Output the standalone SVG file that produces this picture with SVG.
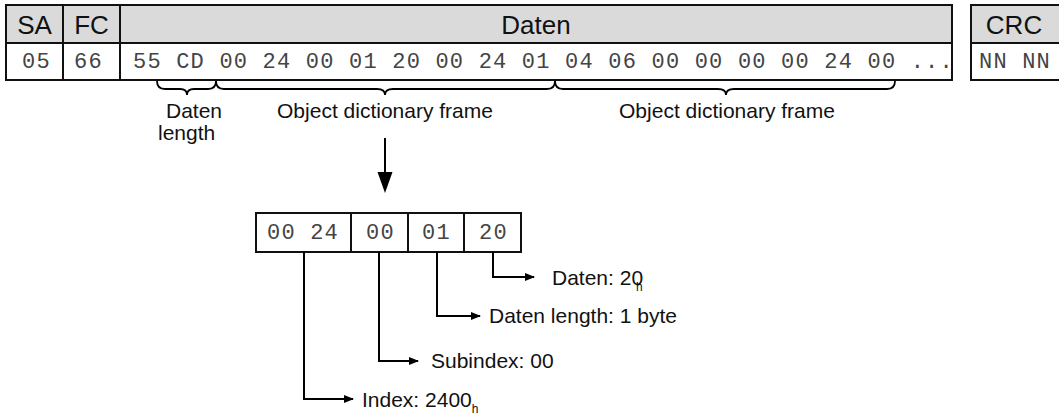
<svg xmlns="http://www.w3.org/2000/svg" width="1059" height="414" viewBox="0 0 1059 414">
<style>
.cell{fill:#fff;stroke:#111;stroke-width:2}
.hdr{fill:#dadada;stroke:#111;stroke-width:2}
.ht{font-family:"Liberation Sans",Arial,sans-serif;font-size:26px;fill:#111;text-anchor:middle}
.mono{font-family:"Liberation Mono","Courier New",monospace;font-size:22px;letter-spacing:1.2px;fill:#444}
.lbl{font-family:"Liberation Sans",Arial,sans-serif;font-size:21px;fill:#111}
.sub{font-size:12px;fill:#111}
.ln{fill:none;stroke:#000;stroke-width:2}
.br{fill:none;stroke:#000;stroke-width:1.8}
</style>
<defs>
<marker id="ah" markerWidth="10" markerHeight="8" refX="9" refY="4" orient="auto" markerUnits="userSpaceOnUse"><path d="M0,0 L10,4 L0,8 z" fill="#000"/></marker>
</defs>
<rect width="1059" height="414" fill="#fff"/>
<g id="sa">
<rect class="hdr" x="6" y="5" width="57" height="38"/>
<rect class="cell" x="6" y="43" width="57" height="37"/>
<text class="ht" x="34.5" y="34">SA</text>
<text class="mono" x="22" y="68">05</text>
</g>
<g id="fc">
<rect class="hdr" x="63" y="5" width="57" height="38"/>
<rect class="cell" x="63" y="43" width="57" height="37"/>
<text class="ht" x="91.5" y="34">FC</text>
<text class="mono" x="74" y="68">66</text>
</g>
<g id="daten">
<rect class="hdr" x="120" y="5" width="832" height="38"/>
<rect class="cell" x="120" y="43" width="832" height="37"/>
<text class="ht" x="536" y="34">Daten</text>
<text class="mono" x="133" y="68">55 CD 00 24 00 01 20 00 24 01 04 06 00 00 00 00 24 00 ...</text>
</g>
<g id="crc">
<rect class="hdr" x="971" y="5" width="92" height="38"/>
<rect class="cell" x="971" y="43" width="92" height="37"/>
<text class="ht" x="1014" y="34">CRC</text>
<text class="mono" x="979" y="68" letter-spacing="2.5">NN NN</text>
</g>
<g id="braces">
<path class="br" d="M157,81 Q157,89 165,89 H180 Q187,89 187,95 Q187,89 194,89 H208 Q216,89 216,81"/>
<path class="br" d="M216,81 Q216,89 224,89 H377 Q385,89 385,95 Q385,89 393,89 H547 Q555,89 555,81"/>
<path class="br" d="M555,81 Q555,89 563,89 H718 Q726,89 726,95 Q726,89 734,89 H887 Q895,89 895,81"/>
</g>
<g id="labels">
<text class="lbl" x="166" y="118">Daten</text>
<text class="lbl" x="158" y="140">length</text>
<text class="lbl" x="385" y="118" text-anchor="middle">Object dictionary frame</text>
<text class="lbl" x="727" y="118" text-anchor="middle">Object dictionary frame</text>
</g>
<g id="bigarrow">
<line class="ln" x1="385" y1="138" x2="385" y2="174"/>
<path d="M377.5,172 L392.5,172 L385,193 z" fill="#000"/>
</g>
<g id="odframe">
<rect class="cell" x="256" y="213" width="95" height="39"/>
<rect class="cell" x="351" y="213" width="57" height="39"/>
<rect class="cell" x="408" y="213" width="56" height="39"/>
<rect class="cell" x="464" y="213" width="57" height="39"/>
<text class="mono" x="267" y="239">00 24</text>
<text class="mono" x="366" y="239">00</text>
<text class="mono" x="422" y="239">01</text>
<text class="mono" x="479" y="239">20</text>
</g>
<g id="connectors">
<path class="ln" d="M304,252 V399 H353" marker-end="url(#ah)"/>
<path class="ln" d="M379,252 V361 H418" marker-end="url(#ah)"/>
<path class="ln" d="M437,252 V316 H480" marker-end="url(#ah)"/>
<path class="ln" d="M493,252 V277 H534" marker-end="url(#ah)"/>
</g>
<g id="fieldlabels">
<text class="lbl" x="552" y="285">Daten: 20<tspan class="sub" dx="-7" dy="6">h</tspan></text>
<text class="lbl" x="489" y="323">Daten length: 1 byte</text>
<text class="lbl" x="431" y="368">Subindex: 00</text>
<text class="lbl" x="362" y="407">Index: 2400<tspan class="sub" dy="6">h</tspan></text>
</g>
</svg>
